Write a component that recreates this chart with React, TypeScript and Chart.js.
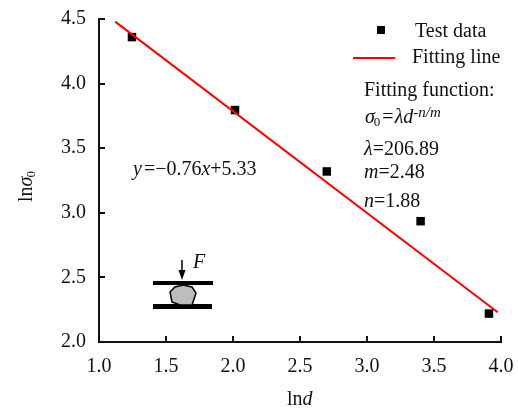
import React, { useEffect, useRef } from "react";
import { Chart, registerables } from "chart.js";

Chart.register(...registerables);

const dataX = [1.246, 2.015, 2.7, 3.4, 3.91];
const dataY = [4.36, 3.795, 3.32, 2.935, 2.22];
const fitX = [1.12, 3.975];
const fitY = [4.48, 2.23];
const xTicks = [1.0, 1.5, 2.0, 2.5, 3.0, 3.5, 4.0];
const yTicks = [2.0, 2.5, 3.0, 3.5, 4.0, 4.5];

const FONT = '"Liberation Serif"';
const SIZE = 20;

type Run = [string, string?, number?];

function rich(ctx: CanvasRenderingContext2D, x: number, y: number, runs: Run[], size = SIZE) {
  let cx = x;
  ctx.textAlign = "left";
  ctx.textBaseline = "alphabetic";
  ctx.fillStyle = "#111";
  for (const [t, style, adv] of runs) {
    const s = style || "";
    const sub = s.includes("sub");
    const sup = s.includes("sup");
    const it = s.includes("i");
    const fs = sub ? Math.round(size * 0.65) : sup ? Math.round(size * 0.75) : size;
    ctx.font = `${it ? "italic " : ""}${fs}px ${FONT}`;
    ctx.fillText(t, cx, y + (sub ? 3 : sup ? -6 : 0));
    cx += ctx.measureText(t).width + (adv || 0);
  }
}

const overlay = {
  id: "overlay",
  afterDraw(chart: any) {
    const ctx: CanvasRenderingContext2D = chart.ctx;
    const sx = chart.scales.x;
    const sy = chart.scales.y;
    ctx.save();
    // inward ticks
    ctx.strokeStyle = "#111";
    ctx.lineWidth = 2;
    ctx.beginPath();
    for (const v of xTicks) {
      const p = Math.round(sx.getPixelForValue(v));
      ctx.moveTo(p, sy.bottom);
      ctx.lineTo(p, sy.bottom - 6);
    }
    for (const v of yTicks) {
      const p = Math.round(sy.getPixelForValue(v));
      ctx.moveTo(sx.left, p);
      ctx.lineTo(sx.left + 6, p);
    }
    ctx.stroke();

    // axis titles
    rich(ctx, 287, 405, [["ln"], ["d", "i"]]);
    ctx.save();
    ctx.translate(32, 202);
    ctx.rotate(-Math.PI / 2);
    rich(ctx, 0, 0, [["ln"], ["σ", "i", -1], ["0", "sub"]]);
    ctx.restore();

    // legend
    ctx.fillStyle = "#000";
    ctx.fillRect(377, 26, 8, 8);
    ctx.strokeStyle = "#ff0000";
    ctx.lineWidth = 2;
    ctx.beginPath();
    ctx.moveTo(353, 58);
    ctx.lineTo(395, 58);
    ctx.stroke();
    rich(ctx, 415, 37, [["Test data"]]);
    rich(ctx, 412, 63, [["Fitting line"]]);

    // annotations
    rich(ctx, 364, 96, [["Fitting function:"]]);
    rich(ctx, 365, 123, [["σ", "i", -1], ["0", "sub", 2], ["=", "", 1], ["λd", "i"], ["-n/m", "isup"]]);
    rich(ctx, 364, 155, [["λ", "i"], ["=206.89"]]);
    rich(ctx, 364, 178, [["m", "i"], ["=2.48"]]);
    rich(ctx, 364, 207, [["n", "i"], ["=1.88"]]);
    rich(ctx, 133, 175, [["y", "i", 2], ["=−0.76"], ["x", "i"], ["+5.33"]]);

    // loading schematic
    ctx.fillStyle = "#000";
    ctx.fillRect(153, 281, 60, 4);
    ctx.fillRect(153, 304, 59, 5);
    ctx.beginPath();
    ctx.moveTo(170, 292);
    ctx.lineTo(175, 287);
    ctx.lineTo(183, 285);
    ctx.lineTo(192, 287);
    ctx.lineTo(196, 293);
    ctx.lineTo(192, 305);
    ctx.lineTo(180, 305);
    ctx.lineTo(172, 302);
    ctx.closePath();
    ctx.fillStyle = "#bdbdbd";
    ctx.fill();
    ctx.strokeStyle = "#000";
    ctx.lineWidth = 1.5;
    ctx.stroke();
    ctx.beginPath();
    ctx.moveTo(182, 260);
    ctx.lineTo(182, 272);
    ctx.stroke();
    ctx.fillStyle = "#000";
    ctx.beginPath();
    ctx.moveTo(178.5, 270);
    ctx.lineTo(185.5, 270);
    ctx.lineTo(182, 280);
    ctx.closePath();
    ctx.fill();
    rich(ctx, 193, 268, [["F", "i"]]);
    ctx.restore();
  },
};

export default function App() {
  const ref = useRef<HTMLCanvasElement>(null);
  useEffect(() => {
    const chart = new Chart(ref.current!, {
      type: "scatter",
      data: {
        datasets: [
          {
            label: "Fitting line",
            data: fitX.map((x, i) => ({ x, y: fitY[i] })),
            showLine: true,
            borderColor: "#ff0000",
            borderWidth: 2,
            pointRadius: 0,
            order: 1,
          },
          {
            label: "Test data",
            data: dataX.map((x, i) => ({ x, y: dataY[i] })),
            pointStyle: "rect",
            pointRadius: 6,
            backgroundColor: "#000",
            borderColor: "#000",
            borderWidth: 0,
            order: 2,
          },
        ],
      },
      options: {
        animation: false,
        responsive: false,
        layout: { padding: { top: 19, right: 17, left: 0, bottom: 0 } },
        plugins: { legend: { display: false }, tooltip: { enabled: false } },
        scales: {
          x: {
            type: "linear",
            min: 1,
            max: 4,
            afterFit: (s: any) => { s.height = 67; s.paddingRight = 0; s.paddingLeft = 0; },
            afterBuildTicks: (s: any) => { s.ticks = xTicks.map((value) => ({ value })); },
            grid: { display: false },
            border: { display: true, color: "#111", width: 2 },
            ticks: {
              color: "#111",
              font: { family: FONT, size: SIZE },
              padding: 5,
              maxRotation: 0,
              callback: (v: any) => Number(v).toFixed(1),
            },
          },
          y: {
            type: "linear",
            min: 2,
            max: 4.5,
            afterFit: (s: any) => { s.width = 99; s.paddingTop = 0; s.paddingBottom = 0; },
            afterBuildTicks: (s: any) => { s.ticks = yTicks.map((value) => ({ value })); },
            grid: { display: false },
            border: { display: true, color: "#111", width: 2 },
            ticks: {
              color: "#111",
              font: { family: FONT, size: SIZE },
              padding: 5,
              callback: (v: any) => Number(v).toFixed(1),
            },
          },
        },
      },
      plugins: [overlay],
    });
    return () => chart.destroy();
  }, []);
  return (
    <canvas
      ref={ref}
      width={518}
      height={409}
      style={{ position: "fixed", left: 0, top: 0, width: 518, height: 409, background: "#fff" }}
    />
  );
}
